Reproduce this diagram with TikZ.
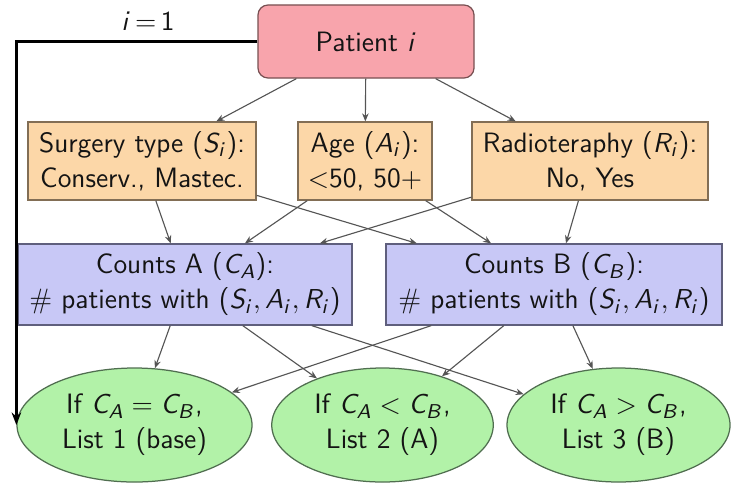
\documentclass[tikz,border=0pt]{standalone}
\usetikzlibrary{arrows.meta,shapes.geometric}
\DeclareMathAlphabet{\mathssl}{OT1}{cmss}{m}{sl}
\newcommand\mv[2]{\mathssl{#1}_{\mathssl{#2}}}
\definecolor{pinkf}{RGB}{248,164,172}
\definecolor{pinkd}{RGB}{120,80,82}
\definecolor{orangef}{RGB}{252,215,168}
\definecolor{oranged}{RGB}{130,110,85}
\definecolor{bluef}{RGB}{200,200,246}
\definecolor{blued}{RGB}{95,95,125}
\definecolor{greenf}{RGB}{178,242,168}
\definecolor{greend}{RGB}{80,110,80}
\definecolor{edgec}{RGB}{85,85,85}
\definecolor{txt}{RGB}{20,20,20}
\begin{document}
\begin{tikzpicture}[x=0.4pt,y=-0.4pt,
  font=\sffamily\fontsize{11.2}{14}\selectfont,
  every node/.style={text=txt},
  base/.style={draw, line width=0.5pt, align=center, inner sep=1pt},
  patbox/.style={base, rectangle, rounded corners=4pt, fill=pinkf, draw=pinkd,
    minimum width=86.4pt, minimum height=29.2pt},
  varbox/.style={base, rectangle, fill=orangef, draw=oranged, minimum height=31.2pt},
  cntbox/.style={base, rectangle, fill=bluef, draw=blued, minimum height=32.4pt},
  listell/.style={base, ellipse, inner sep=0pt, fill=greenf, draw=greend, minimum height=45.6pt},
  edge/.style={draw=edgec, line width=0.45pt, -{Stealth[length=3.2pt,width=2.6pt]}},
  loopedge/.style={draw=black, line width=1.3pt, -{Stealth[length=5pt,width=3.8pt]}}
]
\useasboundingbox (0,0) rectangle (750,493);

\node[patbox] (pat) at (366,41.5) {Patient $\mathssl{i}$};

\node[varbox, minimum width=91.2pt] (surg) at (142,161) {Surgery type ($\mv{S}{i}$):\\Conserv., Mastec.};
\node[varbox, minimum width=53.6pt] (age) at (365,161) {Age ($\mv{A}{i}$):\\$<$50, 50$+$};
\node[varbox, minimum width=94.4pt] (rad) at (590,161) {Radioteraphy ($\mv{R}{i}$):\\No, Yes};

\node[cntbox, minimum width=133.6pt] (ca) at (185,284.5) {Counts A ($\mv{C}{A}$):\\\# patients with ($\mv{S}{i}, \mv{A}{i}, \mv{R}{i}$)};
\node[cntbox, minimum width=134.4pt] (cb) at (554,284.5) {Counts B ($\mv{C}{B}$):\\\# patients with ($\mv{S}{i}, \mv{A}{i}, \mv{R}{i}$)};

\node[listell, minimum width=94pt] (e1) at (134.5,425) {If $\mv{C}{A} = \mv{C}{B}$,\\List 1 (base)};
\node[listell, minimum width=88.6pt] (e2) at (382.5,425) {If $\mv{C}{A} < \mv{C}{B}$,\\List 2 (A)};
\node[listell, minimum width=89.2pt] (e3) at (618.5,425) {If $\mv{C}{A} > \mv{C}{B}$,\\List 3 (B)};

\draw[edge] (pat) -- (surg);
\draw[edge] (pat) -- (age);
\draw[edge] (pat) -- (rad);

\draw[edge] (surg) -- (ca);
\draw[edge] (surg) -- (cb);
\draw[edge] (age) -- (ca);
\draw[edge] (age) -- (cb);
\draw[edge] (rad) -- (ca);
\draw[edge] (rad) -- (cb);

\draw[edge] (ca) -- (e1);
\draw[edge] (ca) -- (e2);
\draw[edge] (ca) -- (e3);
\draw[edge] (cb) -- (e1);
\draw[edge] (cb) -- (e2);
\draw[edge] (cb) -- (e3);

\draw[loopedge] (pat.west) -| (e1.west);
\node (lbl) at (148,21) {$\mathssl{i}\,{=}\,\mathsf{1}$};
\end{tikzpicture}
\end{document}
